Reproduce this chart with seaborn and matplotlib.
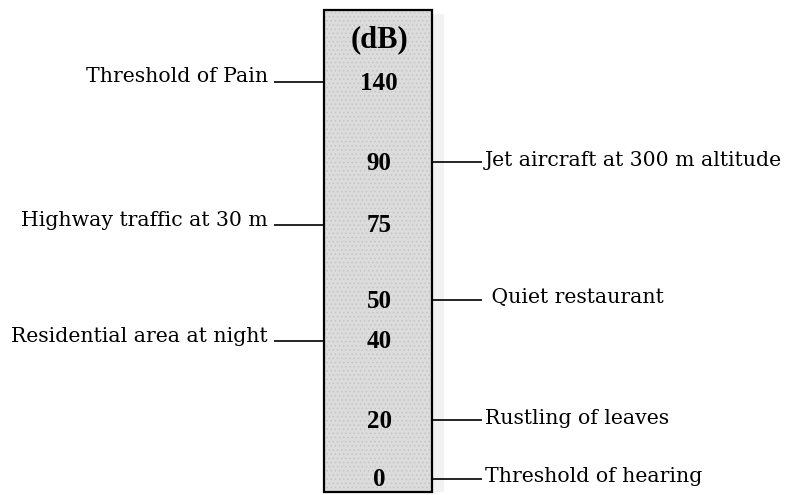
import matplotlib
matplotlib.use("Agg")
import matplotlib.pyplot as plt
import matplotlib.patches as mpatches
import seaborn as sns

# data
levels_db = [140, 90, 75, 50, 40, 20, 0]
sources = [
    "Threshold of Pain",
    "Jet aircraft at 300 m altitude",
    "Highway traffic at 30 m",
    " Quiet restaurant",
    "Residential area at night",
    "Rustling of leaves",
    "Threshold of hearing",
]
sides = ["left", "right", "left", "right", "left", "right", "right"]
unit_label = "(dB)"

# layout (schematic, not to scale) - in pixel-like units
ROW_Y = [82, 162, 225, 300, 341, 420, 479]
BOX = (324, 432, 10, 492)  # x0, x1, y0, y1
CX = (BOX[0] + BOX[1]) / 2

sns.set_theme(style="white")
plt.rcParams["font.family"] = ["DejaVu Serif"]
plt.rcParams["text.color"] = "black"
plt.rcParams["hatch.color"] = "#bdbdbd"
plt.rcParams["hatch.linewidth"] = 0.6

fig = plt.figure(figsize=(7.9, 4.95), dpi=100)
ax = fig.add_axes([0, 0, 1, 1])
ax.set_xlim(0, 790)
ax.set_ylim(495, 0)
ax.axis("off")

w, h = BOX[1] - BOX[0], BOX[3] - BOX[2]
# faint shadow, dotted fill, then black frame
ax.add_patch(mpatches.Rectangle((BOX[1], BOX[2] + 4), 12, h - 4,
                                facecolor="#f2f2f2", edgecolor="none"))
ax.add_patch(mpatches.Rectangle((BOX[0], BOX[2]), w, h, facecolor="#dcdcdc",
                                edgecolor="#c4c4c4", lw=0, hatch="....", zorder=2))
ax.add_patch(mpatches.Rectangle((BOX[0], BOX[2]), w, h, fill=False,
                                edgecolor="black", lw=1.6, zorder=3))

ax.text(CX + 2, 40, unit_label, ha="center", va="center", fontsize=22,
        fontweight="bold", family="Liberation Serif", zorder=4)

for db, src, side, y in zip(levels_db, sources, sides, ROW_Y):
    ax.text(CX + 1, y + 1, str(db), ha="center", va="center", fontsize=18,
            fontweight="bold", family="Liberation Serif", zorder=4)
    if side == "left":
        ax.hlines(y, 274, BOX[0], color="black", lw=1.2)
        ax.text(268, y - 5, src, ha="right", va="center", fontsize=14.7)
    else:
        ax.hlines(y, BOX[1], 482, color="black", lw=1.2)
        ax.text(485, y - 2, src, ha="left", va="center", fontsize=14.7)

fig.savefig("out.png", dpi=100)
